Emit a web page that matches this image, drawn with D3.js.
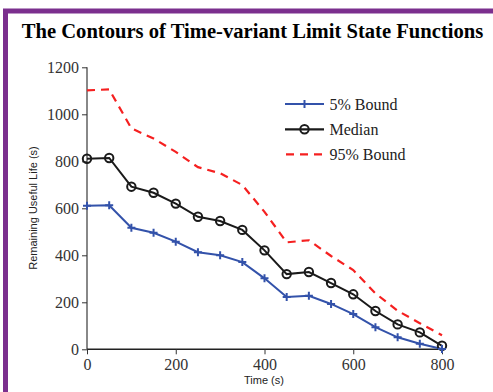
<!DOCTYPE html>
<html>
<head>
<meta charset="utf-8">
<script src="https://cdn.jsdelivr.net/npm/d3@7"></script>
<style>
body { margin: 0; background: #fff; }
svg { display: block; }
</style>
</head>
<body>
<script>
// data
var times = [0, 50, 100, 150, 200, 250, 300, 350, 400, 450, 500, 550, 600, 650, 700, 750, 800];
var lower5 = [611, 613, 517, 496, 458, 413, 400, 371, 302, 223, 228, 193, 150, 94, 51, 24, 1];
var median = [811, 814, 692, 666, 620, 564, 546, 508, 421, 320, 329, 282, 234, 163, 106, 72, 15];
var upper95 = [1102, 1106, 940, 897, 840, 775, 749, 699, 585, 455, 464, 397, 337, 238, 164, 111, 60];
var xTicks = [0, 200, 400, 600, 800];
var yTicks = [0, 200, 400, 600, 800, 1000, 1200];
var seriesNames = ["5% Bound", "Median", "95% Bound"];

var W = 493, H = 392;
var svg = d3.select("body").append("svg").attr("width", W).attr("height", H);

// purple frame (runs off right and bottom)
svg.append("rect").attr("x", 3).attr("y", 9).attr("width", 500).attr("height", 400)
  .attr("fill", "none").attr("stroke", "#7b2f8e").attr("stroke-width", 5)
  .attr("transform", "translate(2.5,2)");

svg.append("text").attr("x", 252.5).attr("y", 38).attr("text-anchor", "middle")
  .attr("font-family", "Liberation Serif").attr("font-weight", "bold").attr("font-size", 20.6)
  .text("The Contours of Time-variant Limit State Functions");

var x = d3.scaleLinear().domain([0, 800]).range([87, 442]);
var y = d3.scaleLinear().domain([0, 1200]).range([349.3, 67.3]);

// y axis
var gy = svg.append("g").attr("transform", "translate(87,0)")
  .call(d3.axisLeft(y).tickValues(yTicks).tickSize(5).tickPadding(3).tickFormat(d3.format("d")));
gy.select(".domain").attr("stroke", "#888").attr("stroke-width", 2).attr("d", "M0," + y(1200) + "V" + y(0));
gy.selectAll(".tick line").attr("stroke", "#333").attr("stroke-width", 1);
gy.selectAll("text").attr("font-family", "Liberation Serif").attr("font-size", 16).attr("fill", "#333");

// x axis
var gx = svg.append("g").attr("transform", "translate(0," + y(0) + ")")
  .call(d3.axisBottom(x).tickValues(xTicks).tickSize(5).tickPadding(4).tickFormat(d3.format("d")));
gx.select(".domain").attr("stroke", "#222").attr("stroke-width", 1.5).attr("d", "M" + x(0) + ",0H" + x(800));
gx.selectAll(".tick line").attr("stroke", "#333");
gx.selectAll("text").attr("font-family", "Liberation Serif").attr("font-size", 16).attr("fill", "#333");

svg.append("text").attr("transform", "translate(37,208) rotate(-90)").attr("text-anchor", "middle")
  .attr("font-family", "Liberation Sans").attr("font-size", 11).attr("fill", "#222")
  .text("Remaining Useful Life (s)");
svg.append("text").attr("x", 264).attr("y", 384).attr("text-anchor", "middle")
  .attr("font-family", "Liberation Sans").attr("font-size", 11).attr("fill", "#222")
  .text("Time (s)");

var line = d3.line().x(function(d, i){ return x(times[i]); }).y(function(d){ return y(d); });

var blue = "#3352aa", black = "#1a1a1a", red = "#f52020";

svg.append("path").datum(upper95).attr("d", line).attr("fill", "none")
  .attr("stroke", red).attr("stroke-width", 2.2).attr("stroke-dasharray", "8,6");
svg.append("path").datum(median).attr("d", line).attr("fill", "none")
  .attr("stroke", black).attr("stroke-width", 2);
svg.append("path").datum(lower5).attr("d", line).attr("fill", "none")
  .attr("stroke", blue).attr("stroke-width", 2);

function plus(g, cx, cy){
  g.append("path").attr("d", "M" + (cx - 4) + "," + cy + "H" + (cx + 4) + "M" + cx + "," + (cy - 4) + "V" + (cy + 4))
    .attr("stroke", blue).attr("stroke-width", 2);
}
function circ(g, cx, cy){
  g.append("circle").attr("cx", cx).attr("cy", cy).attr("r", 4.2)
    .attr("fill", "none").attr("stroke", black).attr("stroke-width", 2);
}
var mk = svg.append("g");
median.forEach(function(d, i){ circ(mk, x(times[i]), y(d)); });
lower5.forEach(function(d, i){ plus(mk, x(times[i]), y(d)); });

// legend
var leg = svg.append("g");
var rows = [104, 129.3, 154.3];
seriesNames.forEach(function(n, i){
  var ly = rows[i];
  var ln = leg.append("line").attr("x1", 285).attr("x2", 324).attr("y1", ly).attr("y2", ly).attr("stroke-width", 2.2);
  if (i == 0) { ln.attr("stroke", blue); plus(leg, 304.5, ly); }
  if (i == 1) { ln.attr("stroke", black); circ(leg, 304.5, ly); }
  if (i == 2) { ln.attr("stroke", red).attr("stroke-dasharray", "8,6").attr("x1", 286); }
  leg.append("text").attr("x", 329.5).attr("y", ly + 5.5).attr("font-family", "Liberation Serif")
    .attr("font-size", 16).attr("fill", "#222").text(n);
});
</script>
</body>
</html>
